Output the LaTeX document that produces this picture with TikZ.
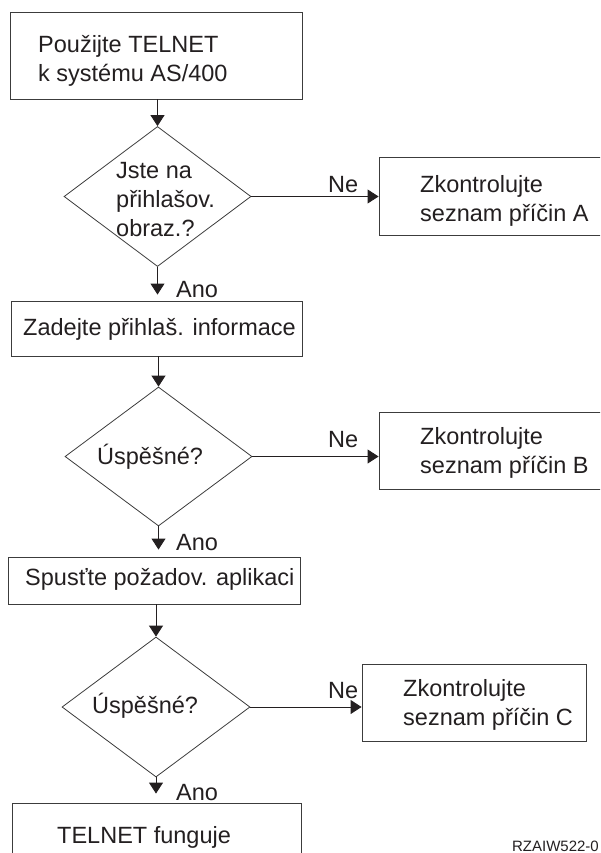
\documentclass[tikz,border=0pt]{standalone}
\usepackage{fontspec}
\setmainfont{Liberation Sans}
\usetikzlibrary{shapes.geometric,arrows.meta}
\definecolor{ink}{HTML}{231F20}
\definecolor{edge}{HTML}{3C3C3C}
\tikzset{
  box/.style={draw=edge,line width=0.9pt,rectangle,inner sep=0pt},
  dia/.style={draw=edge,line width=0.8pt,diamond,inner sep=0pt},
  txt/.style={anchor=base west,inner sep=0pt,text=ink,font=\fontsize{23.5pt}{29pt}\selectfont,align=left},
  arr/.style={draw=ink,line width=0.9pt,-{Triangle[length=11pt,width=14pt]}},
}
\begin{document}
\begin{tikzpicture}[x=1pt,y=-1pt]
\useasboundingbox (0,0) rectangle (600,853);
\clip (0,0) rectangle (600,853);
% boxes
\node[box,minimum width=292pt,minimum height=87pt] (b1) at (156,55.5) {};
\node[box,minimum width=291pt,minimum height=55pt] (b2) at (156.5,328.5) {};
\node[box,minimum width=292pt,minimum height=47pt] (b3) at (154,580.5) {};
\node[box,minimum width=289pt,minimum height=77pt] (b4) at (156.5,841.5) {};
\node[box,minimum width=241pt,minimum height=78pt] (bA) at (499.5,196) {};
\node[box,minimum width=241pt,minimum height=77pt] (bB) at (499.5,450.5) {};
\node[box,minimum width=224pt,minimum height=77pt] (bC) at (474,702.5) {};
% diamonds
\node[dia,minimum width=187pt,minimum height=140pt] (d1) at (157.5,196.5) {};
\node[dia,minimum width=187pt,minimum height=139pt] (d2) at (158.5,456.5) {};
\node[dia,minimum width=188pt,minimum height=140pt] (d3) at (156,707) {};
% texts (base = baseline of last line)
\node[txt] (t1) at (38,82) {Použijte TELNET\\k systému AS/400};
\node[txt] (t2) at (23,335) {Zadejte přihlaš. informace};
\node[txt] (t3) at (25,585) {Spusťte požadov. aplikaci};
\node[txt] (t4) at (57,843) {TELNET funguje};
\node[txt] (tA) at (420,221) {Zkontrolujte\\seznam příčin A};
\node[txt] (tB) at (420,473) {Zkontrolujte\\seznam příčin B};
\node[txt] (tC) at (403,725) {Zkontrolujte\\seznam příčin C};
\node[txt] (td1) at (116,236) {Jste na\\přihlašov.\\obraz.?};
\node[txt] (td2) at (97,464) {Úspěšné?};
\node[txt] (td3) at (92,713) {Úspěšné?};
% labels
\node[txt] (ano1) at (176,297) {Ano};
\node[txt] (ano2) at (176,550) {Ano};
\node[txt] (ano3) at (176,800) {Ano};
\node[txt] (ne1) at (328,192) {Ne};
\node[txt] (ne2) at (328,447) {Ne};
\node[txt] (ne3) at (328,698) {Ne};
\node[anchor=base east,inner sep=0pt,text=ink,font=\fontsize{15pt}{18pt}\selectfont] (code) at (599,851) {RZAIW522-0};
% connectors
\draw[arr] (d1.north |- b1.south) -- (d1.north);
\draw[arr,shorten >=6pt] (d1.south) -- (d1.south |- b2.north);
\draw[arr] (d2.north |- b2.south) -- (d2.north);
\draw[arr,shorten >=7pt] (d2.south) -- (d2.south |- b3.north);
\draw[arr] (d3.north |- b3.south) -- (d3.north);
\draw[arr,shorten >=9pt] (d3.south) -- (d3.south |- b4.north);
\draw[arr] (d1.east) -- (d1.east -| bA.west);
\draw[arr] (d2.east) -- (d2.east -| bB.west);
\draw[arr] (d3.east) -- (d3.east -| bC.west);
\end{tikzpicture}
\end{document}
